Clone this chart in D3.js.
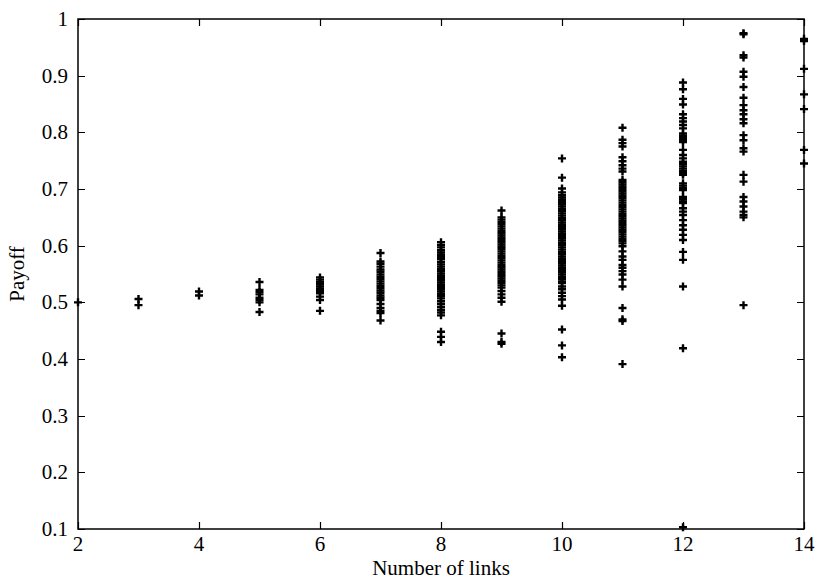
<!DOCTYPE html>
<html>
<head>
<meta charset="utf-8">
<script src="https://cdn.jsdelivr.net/npm/d3@7"></script>
<style>
  body { margin: 0; background: #fff; }
  text { font-family: "Liberation Serif", "DejaVu Serif", serif; fill: #000; }
</style>
</head>
<body>
<div id="chart"></div>
<script>
// number of links on x, payoff values for each column
var linkCounts = [2, 3, 4, 5, 6, 7, 8, 9, 10, 11, 12, 13, 14];

var payoffs2 = [0.5];
var payoffs3 = [0.506, 0.495];
var payoffs4 = [0.519, 0.512];
var payoffs5 = [0.536, 0.522, 0.518, 0.514, 0.508, 0.504, 0.5, 0.483];
var payoffs6 = [0.544, 0.54, 0.536, 0.532, 0.528, 0.524, 0.52, 0.516, 0.51, 0.504, 0.485];
var payoffs7 = [0.587, 0.572, 0.568, 0.563, 0.558, 0.554, 0.549, 0.545, 0.541, 0.537, 0.533, 0.529,
  0.525, 0.521, 0.517, 0.512, 0.508, 0.504, 0.497, 0.49, 0.485, 0.481, 0.468];
var payoffs8 = [0.606, 0.601, 0.597, 0.592, 0.588, 0.584, 0.58, 0.576, 0.571, 0.567, 0.563, 0.559,
  0.555, 0.551, 0.547, 0.543, 0.539, 0.535, 0.531, 0.527, 0.523, 0.519, 0.515, 0.511, 0.507, 0.502,
  0.497, 0.492, 0.487, 0.482, 0.477, 0.448, 0.439, 0.43];
var payoffs9 = [0.662, 0.65, 0.646, 0.642, 0.638, 0.634, 0.63, 0.626, 0.622, 0.618, 0.614, 0.61,
  0.606, 0.602, 0.598, 0.594, 0.59, 0.586, 0.582, 0.578, 0.574, 0.57, 0.566, 0.562, 0.558, 0.554,
  0.55, 0.546, 0.542, 0.538, 0.534, 0.53, 0.526, 0.52, 0.514, 0.508, 0.501, 0.445, 0.43, 0.427];
var payoffs10 = [0.754, 0.72, 0.701, 0.694, 0.689, 0.685, 0.681, 0.677, 0.673, 0.669, 0.665, 0.661,
  0.657, 0.653, 0.649, 0.645, 0.641, 0.637, 0.633, 0.629, 0.625, 0.621, 0.617, 0.613, 0.609, 0.605,
  0.601, 0.597, 0.593, 0.589, 0.585, 0.581, 0.577, 0.573, 0.569, 0.565, 0.561, 0.557, 0.553, 0.549,
  0.545, 0.541, 0.537, 0.534, 0.528, 0.523, 0.517, 0.511, 0.505, 0.494, 0.452, 0.424, 0.403];
var payoffs11 = [0.808, 0.787, 0.781, 0.775, 0.756, 0.749, 0.742, 0.736, 0.731, 0.716, 0.712, 0.708,
  0.704, 0.7, 0.696, 0.692, 0.688, 0.684, 0.68, 0.676, 0.672, 0.668, 0.664, 0.66, 0.656, 0.652,
  0.648, 0.644, 0.64, 0.636, 0.632, 0.628, 0.624, 0.62, 0.616, 0.612, 0.608, 0.604, 0.599, 0.59,
  0.581, 0.575, 0.566, 0.561, 0.555, 0.549, 0.54, 0.528, 0.49, 0.47, 0.467, 0.391];
var payoffs12 = [0.888, 0.876, 0.859, 0.849, 0.832, 0.825, 0.819, 0.813, 0.807, 0.798, 0.794, 0.79,
  0.786, 0.783, 0.769, 0.76, 0.754, 0.748, 0.744, 0.74, 0.736, 0.732, 0.728, 0.725, 0.71, 0.706,
  0.702, 0.698, 0.686, 0.682, 0.678, 0.675, 0.666, 0.66, 0.654, 0.645, 0.636, 0.628, 0.619, 0.61,
  0.589, 0.575, 0.528, 0.419, 0.103];
var payoffs13 = [0.975, 0.973, 0.936, 0.932, 0.907, 0.898, 0.88, 0.861, 0.848, 0.839, 0.832, 0.823,
  0.816, 0.795, 0.786, 0.772, 0.766, 0.725, 0.713, 0.686, 0.678, 0.669, 0.66, 0.654, 0.65, 0.495];
var payoffs14 = [0.965, 0.961, 0.912, 0.867, 0.841, 0.769, 0.745];

var xTicks = [2, 4, 6, 8, 10, 12, 14];
var yTicks = [0.1, 0.2, 0.3, 0.4, 0.5, 0.6, 0.7, 0.8, 0.9, 1];

var columns = [payoffs2, payoffs3, payoffs4, payoffs5, payoffs6, payoffs7, payoffs8,
  payoffs9, payoffs10, payoffs11, payoffs12, payoffs13, payoffs14];

var points = [];
columns.forEach(function(col, i) {
  col.forEach(function(v) { points.push({ links: linkCounts[i], payoff: v }); });
});

var width = 818, height = 580;
var margin = { top: 19, right: 14, bottom: 51, left: 78 };
var tickLen = 7;

var x = d3.scaleLinear().domain([2, 14]).range([margin.left, width - margin.right]);
var y = d3.scaleLinear().domain([0.1, 1]).range([height - margin.bottom, margin.top]);

var svg = d3.select("#chart").append("svg")
    .attr("width", width)
    .attr("height", height);

var fmt = d3.format("~g");

// inward ticks on all four sides, gnuplot style
svg.selectAll(".ytick")
    .data(yTicks)
  .enter().append("path")
    .attr("class", "ytick")
    .attr("d", function(d) {
      var yy = Math.round(y(d)) + 0.5;
      return "M" + x(2) + "," + yy + "h" + tickLen +
             "M" + x(14) + "," + yy + "h" + (-tickLen);
    })
    .attr("stroke", "#000")
    .attr("stroke-width", 1.2);

svg.selectAll(".xtick")
    .data(xTicks)
  .enter().append("path")
    .attr("class", "xtick")
    .attr("d", function(d) {
      var xx = Math.round(x(d)) + 0.5;
      return "M" + xx + "," + y(0.1) + "v" + (-tickLen) +
             "M" + xx + "," + y(1) + "v" + tickLen;
    })
    .attr("stroke", "#000")
    .attr("stroke-width", 1.2);

svg.append("rect")
    .attr("x", x(2))
    .attr("y", y(1))
    .attr("width", x(14) - x(2))
    .attr("height", y(0.1) - y(1))
    .attr("fill", "none")
    .attr("stroke", "#000")
    .attr("stroke-width", 1.5);

svg.selectAll(".ylabel")
    .data(yTicks)
  .enter().append("text")
    .attr("class", "ylabel")
    .attr("x", x(2) - 10)
    .attr("y", function(d) { return y(d) + 7; })
    .attr("text-anchor", "end")
    .style("font-size", "21px")
    .text(fmt);

svg.selectAll(".xlabel")
    .data(xTicks)
  .enter().append("text")
    .attr("class", "xlabel")
    .attr("x", function(d) { return x(d); })
    .attr("y", y(0.1) + 22)
    .attr("text-anchor", "middle")
    .style("font-size", "21px")
    .text(fmt);

svg.append("text")
    .attr("x", (x(2) + x(14)) / 2)
    .attr("y", height - 5)
    .attr("text-anchor", "middle")
    .style("font-size", "21px")
    .text("Number of links");

svg.append("text")
    .attr("transform", "translate(24," + (y(0.55)) + ") rotate(-90)")
    .attr("text-anchor", "middle")
    .style("font-size", "21px")
    .text("Payoff");

// the '+' markers
var s = 4;
svg.selectAll(".pt")
    .data(points)
  .enter().append("path")
    .attr("class", "pt")
    .attr("transform", function(d) { return "translate(" + x(d.links) + "," + y(d.payoff) + ")"; })
    .attr("d", "M" + (-s) + ",0H" + s + "M0," + (-s) + "V" + s)
    .attr("stroke", "#000")
    .attr("stroke-width", 2.4)
    .attr("fill", "none");
</script>
</body>
</html>
